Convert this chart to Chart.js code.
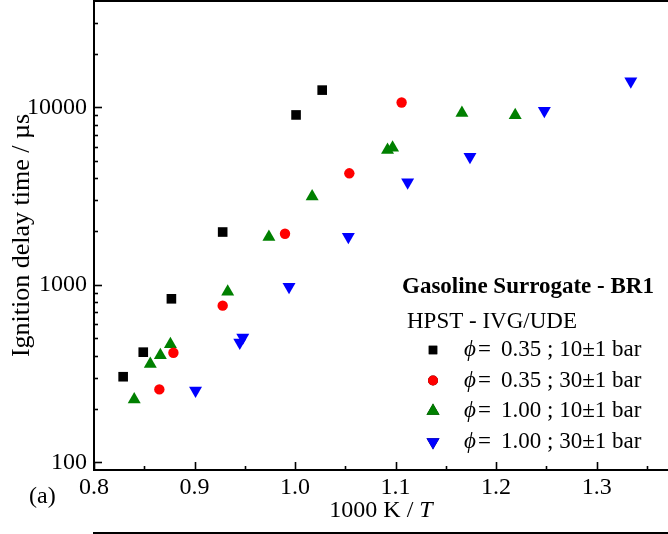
<!DOCTYPE html>
<html>
<head>
<meta charset="utf-8">
<script src="https://cdn.jsdelivr.net/npm/chart.js@4"></script>
<style>
  body { margin: 0; background: #fff; }
  canvas { display: block; }
</style>
</head>
<body>
<canvas id="idtChart" width="668" height="534"></canvas>
<script>
// Ignition delay data (x = 1000 K / T, y = IDT in µs)
const blackSqX = [0.829, 0.849, 0.877, 0.928, 1.001, 1.027];
const blackSqY = [304, 418, 835, 1985, 9060, 12500];

const redCircX = [0.865, 0.879, 0.928, 0.990, 1.054, 1.106];
const redCircY = [258, 415, 764, 1940, 4250, 10650];

const greenUpX = [0.840, 0.856, 0.866, 0.876, 0.933, 0.974, 1.017, 1.092, 1.097, 1.166, 1.219];
const greenUpY = [226, 358, 402, 463, 915, 1860, 3150, 5750, 5930, 9290, 9020];

const blueDnX = [0.901, 0.945, 0.948, 0.994, 1.053, 1.112, 1.174, 1.248, 1.334];
const blueDnY = [254, 474, 506, 977, 1868, 3780, 5270, 9570, 14020];

const seriesLabels = ['0.35 ; 10\u00b11 bar', '0.35 ; 30\u00b11 bar', '1.00 ; 10\u00b11 bar', '1.00 ; 30\u00b11 bar'];

// tick values
const xTickValues = [0.8, 0.85, 0.9, 0.95, 1.0, 1.05, 1.1, 1.15, 1.2, 1.25, 1.3, 1.35];
const xLabelValues = [0.8, 0.9, 1.0, 1.1, 1.2, 1.3];
const yLabelValues = [100, 1000, 10000];
const yMinorValues = [200, 300, 400, 500, 600, 700, 800, 900,
                      2000, 3000, 4000, 5000, 6000, 7000, 8000, 9000,
                      20000, 30000];

const FONT = '"Liberation Serif", "DejaVu Serif", serif';

function toPoints(xs, ys) {
    return xs.map((x, i) => ({ x: x, y: ys[i] }));
}

function isLabel(v, list) {
    return list.some(l => Math.abs(l - v) < 1e-6);
}

// Draws inward ticks, top frame, titles, legend and panel label
const decorPlugin = {
    id: 'decor',
    afterDraw(chart) {
        const ctx = chart.ctx;
        const xs = chart.scales.x;
        const ys = chart.scales.y;
        const area = chart.chartArea;

        ctx.save();
        ctx.strokeStyle = '#000';
        ctx.lineWidth = 1.6;

        // y ticks
        yLabelValues.concat(yMinorValues).forEach(v => {
            const py = Math.round(ys.getPixelForValue(v)) + 0.5;
            const len = isLabel(v, yLabelValues) ? 8 : 4;
            ctx.beginPath();
            ctx.moveTo(area.left, py);
            ctx.lineTo(area.left + len, py);
            ctx.stroke();
        });

        // x ticks
        xTickValues.forEach(v => {
            const px = Math.round(xs.getPixelForValue(v)) + 0.5;
            const len = isLabel(v, xLabelValues) ? 8 : 4;
            ctx.beginPath();
            ctx.moveTo(px, area.bottom);
            ctx.lineTo(px, area.bottom - len);
            ctx.stroke();
        });

        // top frame line
        ctx.lineWidth = 2;
        ctx.beginPath();
        ctx.moveTo(area.left - 1, area.top);
        ctx.lineTo(chart.width, area.top);
        ctx.stroke();

        // frame of the panel below
        ctx.beginPath();
        ctx.moveTo(area.left - 1, 533);
        ctx.lineTo(chart.width, 533);
        ctx.stroke();

        ctx.fillStyle = '#000';
        ctx.textBaseline = 'middle';

        // x title: 1000 K / T
        ctx.font = '24px ' + FONT;
        const part1 = '1000 K / ';
        const w1 = ctx.measureText(part1).width;
        ctx.font = 'italic 24px ' + FONT;
        const w2 = ctx.measureText('T').width;
        const cx = (area.left + area.right) / 2;
        const tx = cx - (w1 + w2) / 2;
        ctx.font = '24px ' + FONT;
        ctx.textAlign = 'left';
        ctx.fillText(part1, tx, 511);
        ctx.font = 'italic 24px ' + FONT;
        ctx.fillText('T', tx + w1, 511);

        // y title
        ctx.save();
        ctx.translate(22, (area.top + area.bottom) / 2);
        ctx.rotate(-Math.PI / 2);
        ctx.textAlign = 'center';
        ctx.font = '26px ' + FONT;
        ctx.fillText('Ignition delay time / \u00b5s', 0, 0);
        ctx.restore();

        // panel label
        ctx.font = '24px ' + FONT;
        ctx.textAlign = 'left';
        ctx.fillText('(a)', 29, 497);

        // legend
        ctx.font = 'bold 23px ' + FONT;
        ctx.fillText('Gasoline Surrogate - BR1', 402, 287);
        ctx.font = '23px ' + FONT;
        ctx.fillText('HPST - IVG/UDE', 407, 322);

        const rowY = [350, 380.5, 411, 442];
        chart.data.datasets.forEach((ds, i) => {
            Chart.helpers.drawPoint(ctx, {
                pointStyle: ds.pointStyle,
                radius: ds.legendRadius,
                rotation: ds.rotation || 0,
                borderWidth: 0
            }, 433, rowY[i]);
            ctx.fillStyle = ds.backgroundColor;
            ctx.fill();
            ctx.fillStyle = '#000';
            ctx.font = 'italic 23px ' + FONT;
            ctx.fillText('\u03d5', 464, rowY[i]);
            ctx.font = '23px ' + FONT;
            ctx.fillText('=', 478, rowY[i]);
            ctx.fillText(seriesLabels[i], 501, rowY[i]);
        });

        ctx.restore();
    }
};

const ctx = document.getElementById('idtChart').getContext('2d');

new Chart(ctx, {
    type: 'scatter',
    data: {
        datasets: [
            {
                label: seriesLabels[0],
                data: toPoints(blackSqX, blackSqY),
                pointStyle: 'rect',
                pointRadius: 6.8,
                legendRadius: 6,
                backgroundColor: '#000000',
                borderWidth: 0
            },
            {
                label: seriesLabels[1],
                data: toPoints(redCircX, redCircY),
                pointStyle: 'circle',
                pointRadius: 5.2,
                legendRadius: 5,
                backgroundColor: '#ff0000',
                borderWidth: 0
            },
            {
                label: seriesLabels[2],
                data: toPoints(greenUpX, greenUpY),
                pointStyle: 'triangle',
                pointRadius: 7.5,
                legendRadius: 7.5,
                backgroundColor: '#008000',
                borderWidth: 0
            },
            {
                label: seriesLabels[3],
                data: toPoints(blueDnX, blueDnY),
                pointStyle: 'triangle',
                rotation: 180,
                pointRotation: 180,
                pointRadius: 7.5,
                legendRadius: 7.5,
                backgroundColor: '#0000ff',
                borderWidth: 0
            }
        ]
    },
    options: {
        responsive: false,
        animation: false,
        layout: { autoPadding: false, padding: { top: 1, left: 0, right: 0, bottom: 0 } },
        plugins: {
            legend: { display: false },
            tooltip: { enabled: false }
        },
        scales: {
            x: {
                type: 'linear',
                min: 0.8,
                max: 1.371,
                afterFit: scale => {
                    scale.height = 64;
                    scale.paddingLeft = 0;
                    scale.paddingRight = 0;
                },
                afterBuildTicks: scale => {
                    scale.ticks = xTickValues.map(v => ({ value: v }));
                },
                grid: { display: false, drawTicks: false },
                border: { display: true, color: '#000', width: 2 },
                ticks: {
                    autoSkip: false,
                    maxRotation: 0,
                    padding: 3,
                    color: '#000',
                    font: { family: FONT, size: 24 },
                    callback: v => isLabel(v, xLabelValues) ? v.toFixed(1) : ''
                }
            },
            y: {
                type: 'logarithmic',
                min: 90.7,
                max: 39700,
                afterFit: scale => {
                    scale.width = 94;
                    scale.paddingTop = 0;
                    scale.paddingBottom = 0;
                },
                afterBuildTicks: scale => {
                    scale.ticks = yLabelValues.map(v => ({ value: v }));
                },
                grid: { display: false, drawTicks: false },
                border: { display: true, color: '#000', width: 2 },
                ticks: {
                    padding: 7,
                    color: '#000',
                    font: { family: FONT, size: 24 },
                    callback: v => String(v)
                }
            }
        }
    },
    plugins: [decorPlugin]
});
</script>
</body>
</html>
